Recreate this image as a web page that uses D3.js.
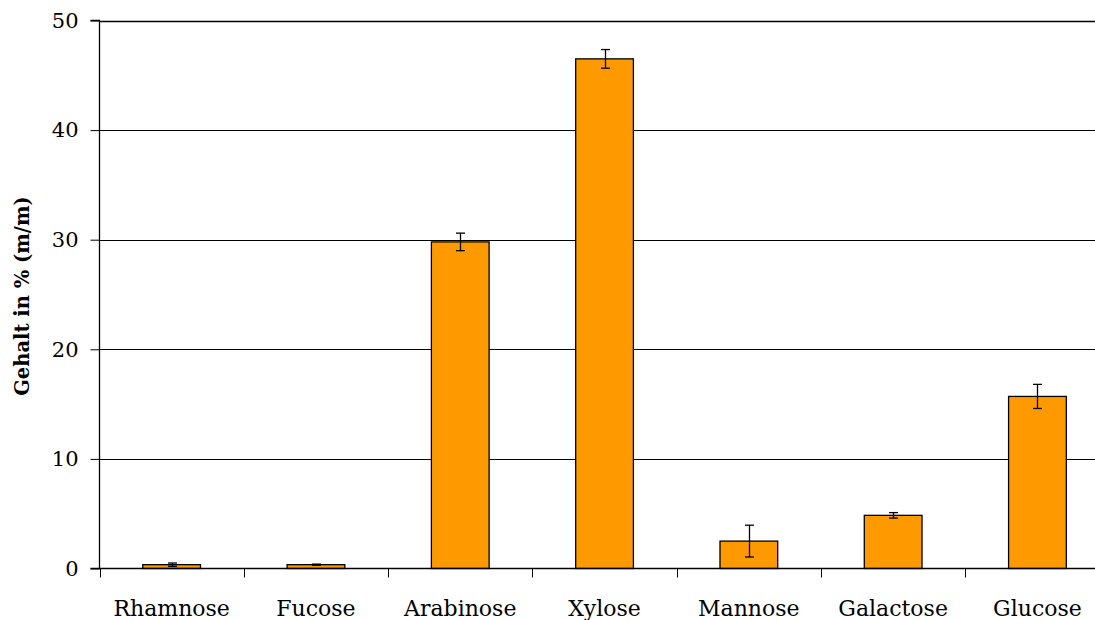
<!DOCTYPE html>
<html><head><meta charset="utf-8">
<script src="https://cdn.jsdelivr.net/npm/d3@7"></script>
<style>
html,body{margin:0;padding:0;background:#fff;}
svg{display:block;overflow:hidden;}
</style></head>
<body>
<svg id="chart" width="1095" height="620"></svg>
<script>
const categories = ["Rhamnose","Fucose","Arabinose","Xylose","Mannose","Galactose","Glucose"];
const values = [0.35, 0.35, 29.8, 46.5, 2.5, 4.85, 15.7];
const errors = [0.15, 0.05, 0.8, 0.85, 1.45, 0.25, 1.1];
const yTicks = [0,10,20,30,40,50];
const yTitle = "Gehalt in % (m/m)";

const svg = d3.select("#chart");
const mLeft = 99.5, mTop = 20.5, mBottom = 568.5;
const plotW = 144.3*7;
const font = "'DejaVu Serif', serif";

const x = d3.scaleBand().domain(categories).range([mLeft, mLeft+plotW]).paddingInner(0.6).paddingOuter(0.3);
const y = d3.scaleLinear().domain([0,50]).range([mBottom, mTop]);

// gridlines
svg.append("g").selectAll("line").data(yTicks.filter(d=>d>0)).join("line")
  .attr("x1", mLeft).attr("x2", mLeft+plotW)
  .attr("y1", d=>Math.round(y(d))+0.5).attr("y2", d=>Math.round(y(d))+0.5)
  .attr("stroke", "#000").attr("stroke-width", d=>d===50?1.6:1);

// bars
svg.append("g").selectAll("rect").data(categories).join("rect")
  .attr("x", d=>x(d)).attr("width", x.bandwidth())
  .attr("y", (d,i)=>y(values[i])).attr("height", (d,i)=>mBottom - y(values[i]))
  .attr("fill", "#FF9900").attr("stroke", "#000").attr("stroke-width", 1.3);

// error bars
const eg = svg.append("g").attr("stroke","#000").attr("stroke-width",1.3);
categories.forEach((c,i)=>{
  const cx = Math.round(x(c)+x.bandwidth()/2)+0.5;
  const y1 = y(values[i]+errors[i]), y2 = y(values[i]-errors[i]);
  eg.append("line").attr("x1",cx).attr("x2",cx).attr("y1",y1).attr("y2",y2);
  eg.append("line").attr("x1",cx-4.5).attr("x2",cx+4.5).attr("y1",y1).attr("y2",y1);
  eg.append("line").attr("x1",cx-4.5).attr("x2",cx+4.5).attr("y1",y2).attr("y2",y2);
});

// y axis
const yAxis = d3.axisLeft(y).tickValues(yTicks).tickSize(9).tickPadding(12).tickFormat(d3.format("d"));
const yg = svg.append("g").attr("transform",`translate(${mLeft},0)`).call(yAxis);
yg.select(".domain").attr("stroke","#000").attr("stroke-width",1.3).attr("d",`M-9,${mTop}H0V${mBottom}H-9`);
yg.selectAll(".tick line").attr("stroke","#000");
yg.selectAll("text").attr("font-family",font).attr("font-size","21px").attr("fill","#000");

// x axis
const xBounds = d3.range(categories.length+1).map(i=>mLeft + i*plotW/categories.length);
svg.append("line").attr("x1",mLeft).attr("x2",mLeft+plotW).attr("y1",mBottom).attr("y2",mBottom)
  .attr("stroke","#000").attr("stroke-width",1.3);
svg.append("g").selectAll("line").data(xBounds).join("line")
  .attr("x1",d=>Math.round(d)+0.5).attr("x2",d=>Math.round(d)+0.5)
  .attr("y1",mBottom).attr("y2",mBottom+9).attr("stroke","#000").attr("stroke-width",1);
svg.append("g").selectAll("text").data(categories).join("text")
  .attr("x", d=>x(d)+x.bandwidth()/2).attr("y", 616)
  .attr("text-anchor","middle").attr("font-family",font).attr("font-size","22px").attr("fill","#000")
  .text(d=>d);

// y title
svg.append("text").attr("transform","translate(29,296) rotate(-90)")
  .attr("text-anchor","middle").attr("font-family",font).attr("font-weight","bold")
  .attr("font-size","19.5px").attr("fill","#000").text(yTitle);
</script>
</body></html>
